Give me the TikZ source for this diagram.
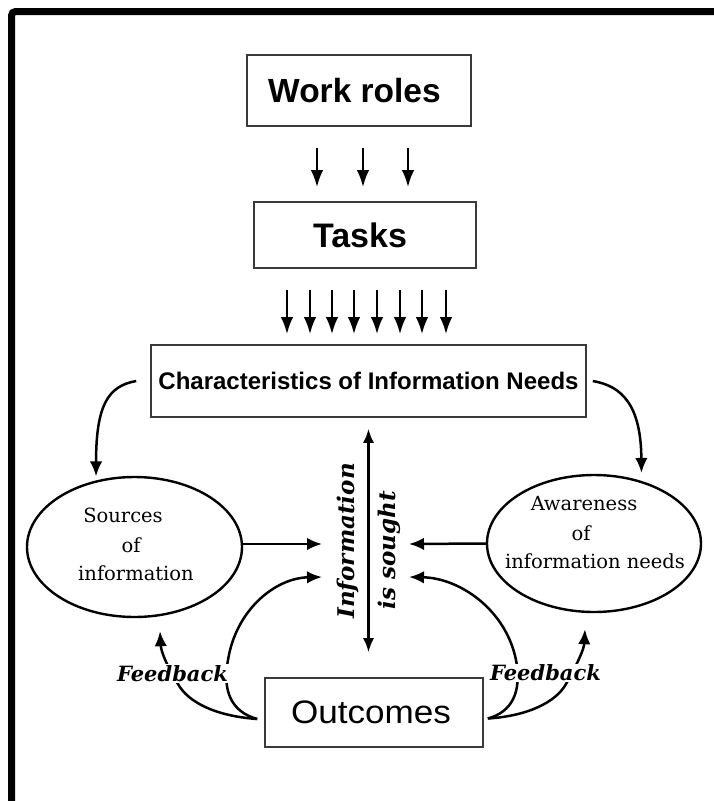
\documentclass[tikz,border=0pt]{standalone}
\usepackage{fontspec}
\setmainfont{Liberation Sans}
\newfontfamily\serifA{DejaVu Serif}
\usetikzlibrary{arrows.meta,shapes.geometric}
\definecolor{boxline}{HTML}{3A3A3A}
\begin{document}
\begin{tikzpicture}[x=1pt,y=-1pt,
  box/.style={draw=boxline, line width=1.6pt, inner sep=0pt},
  ell/.style={draw, ellipse, line width=2.4pt, inner sep=0pt},
  etext/.style={anchor=base, inner sep=0pt, font=\serifA\fontsize{19.5}{24}\selectfont},
  fb/.style={fill=white, inner sep=1pt, font=\serifA\bfseries\itshape\fontsize{21}{24}\selectfont},
  info/.style={rotate=90, inner sep=0pt, font=\serifA\bfseries\itshape\fontsize{23}{26}\selectfont},
  arrA/.style={line width=2.5pt, -{Latex[length=17pt,width=12.5pt]}},
  arrB/.style={line width=2.5pt, -{Latex[length=15pt,width=12.5pt]}},
  dbl/.style={line width=2.2pt, {Latex[length=14pt,width=11pt]}-{Latex[length=14pt,width=11pt]}}
]
\useasboundingbox (0,0) rectangle (714,801);
\fill[white] (0,0) rectangle (714,801);
% frame
\draw[line width=7pt, rounded corners=4pt] (11.5,820) -- (11.5,11.5) -- (730,11.5);

% boxes
\node[box, minimum width=224pt, minimum height=71pt, font=\fontsize{33.5}{40}\selectfont\bfseries] (wr) at (359,90.5) {Work roles\hspace*{9pt}};
\node[box, minimum width=222pt, minimum height=66pt, font=\fontsize{34}{40}\selectfont\bfseries] (tasks) at (365,235) {Tasks\hspace*{10pt}};
\node[box, minimum width=435pt, minimum height=72pt, font=\fontsize{24}{28}\selectfont\bfseries] (char) at (368.5,381) {Characteristics of Information Needs};
\node[box, minimum width=218pt, minimum height=69pt, font=\fontsize{32.5}{38}\selectfont] (out) at (374,712.5) {\scalebox{1.08}[1]{Outcomes}\hspace*{6pt}};

% ellipses
\node[ell, minimum width=215pt, minimum height=140pt] (src) at (134.5,547) {};
\node[ell, minimum width=214pt, minimum height=137pt] (aw) at (594,543.5) {};
\node[etext] (src1) at (123,522) {Sources};
\node[etext] (src2) at (131,552) {of};
\node[etext] (src3) at (136,580) {information};
\node[etext] (aw1) at (584,510) {Awareness};
\node[etext] (aw2) at (581,540) {of};
\node[etext] (aw3) at (595,568) {information needs};

% central text
\node[info] (info1) at (348,541) {Information};
\node[info] (info2) at (389,550) {is sought};

\coordinate (inL1) at (322,544);
\coordinate (inL2) at (322,577);
\coordinate (inR1) at (409,544);
\coordinate (inR2) at (409,577);

% arrows work roles -> tasks
\foreach \a/\b in {-42/-48, 4/-2, 49/43}
  \draw[arrA] ([xshift=\a pt, yshift=-21pt]wr.south) -- ([xshift=\b pt, yshift=14pt]tasks.north);
% arrows tasks -> characteristics
\foreach \x in {287,310,332,354,377,400,422,446}
  \draw[arrA] ([xshift={(\x-365)*1pt}, yshift=-21pt]tasks.south) -- ([xshift={(\x-368.5)*1pt}, yshift=10pt]char.north);

% characteristics -> ellipses
\draw[arrB] ([xshift=-14pt]char.west) .. controls (108,386) and (96,405) .. ([yshift=4pt]src.120);
\draw[arrB] ([xshift=6pt]char.east) .. controls (622,386) and (641,405) .. ([xshift=3pt,yshift=7pt]aw.55);

% vertical double arrow
\draw[dbl] ([yshift=-11pt]char.south) -- ([xshift=-5.5pt,yshift=25pt]out.north);

% horizontal arrows
\draw[arrB] ([yshift=3pt]src.east) -- (inL1);
\draw[arrB] (aw.west) -- (inR1);

% lower curves
\coordinate (jL) at ([xshift=-7pt,yshift=-6.5pt]out.west);
\coordinate (jR) at ([xshift=4pt,yshift=-6pt]out.east);
\draw[arrB] (jL) .. controls (232,712) and (222,692) .. (228,660) .. controls (236,610) and (275,578) .. (inL2);
\draw[arrB] (jL) .. controls (215,716) and (188,702) .. (178,684) .. controls (168,668) and (161,652) .. ([xshift=25.5pt,yshift=-13pt]src.south);
\draw[arrB] (jR) .. controls (512,712) and (522,692) .. (516,660) .. controls (506,610) and (460,578) .. (inR2);
\draw[arrB] (jR) .. controls (528,716) and (556,702) .. (566,684) .. controls (576,666) and (584,650) .. ([xshift=-9pt,yshift=-16pt]aw.south);

% feedback labels
\node[fb] (fbL) at (172.5,673.5) {Feedback};
\node[fb] (fbR) at (545.5,673) {Feedback};
\end{tikzpicture}
\end{document}
